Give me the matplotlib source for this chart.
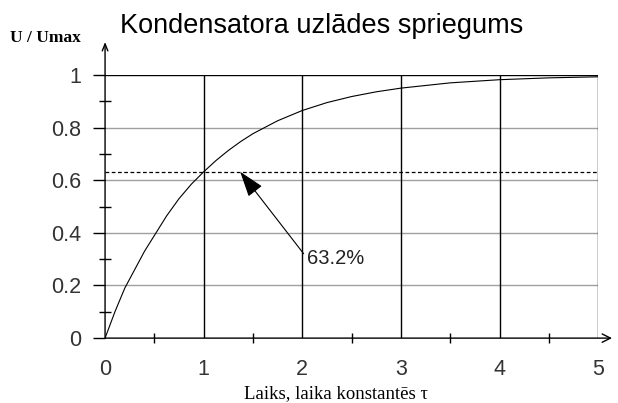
import matplotlib.pyplot as plt

# laiks (tau vienībās) un relatīvais spriegums
t_vals = [0, 0.1, 0.2, 0.3, 0.4, 0.5, 0.625, 0.75, 0.875, 1.0, 1.125, 1.25, 1.375, 1.5, 1.75,
          2.0, 2.25, 2.5, 2.75, 3.0, 3.5, 4.0, 4.5, 5.0]
u_vals = [0, 0.10, 0.19, 0.26, 0.33, 0.39, 0.465, 0.53, 0.585, 0.632, 0.675, 0.713, 0.747,
          0.777, 0.826, 0.865, 0.895, 0.918, 0.936, 0.95, 0.97, 0.982, 0.989, 0.993]
level = 0.632
level_label = "63.2%"
x_ticks = [0, 1, 2, 3, 4, 5]
y_ticks = [0, 0.2, 0.4, 0.6, 0.8, 1]
y_tick_labels = ["0", "0.2", "0.4", "0.6", "0.8", "1"]

fig = plt.figure(figsize=(6.18, 4.03), dpi=100)
ax = fig.add_axes([0.170, 0.161, 0.798, 0.653])
ax.set_xlim(0, 5)
ax.set_ylim(0, 1)

for s in ["top", "left", "bottom", "right"]:
    ax.spines[s].set_visible(False)

# režģis
for y in y_ticks[1:-1]:
    ax.axhline(y, color="#a0a0a0", lw=1.0, zorder=1)
ax.axhline(1, color="black", lw=1.0, zorder=1)
for x in x_ticks[1:]:
    ax.axvline(x, color="black", lw=1.0, zorder=1)

# asis ar bultām
ax.annotate("", xy=(0, 1.125), xytext=(0, 0), xycoords="data",
            arrowprops=dict(arrowstyle="->,head_length=0.5,head_width=0.2", color="black",
                            lw=1.0, shrinkA=0, shrinkB=0),
            annotation_clip=False)
ax.annotate("", xy=(5.14, 0), xytext=(0, 0), xycoords="data",
            arrowprops=dict(arrowstyle="->,head_length=0.6,head_width=0.3", color="black",
                            lw=1.0, shrinkA=0, shrinkB=0),
            annotation_clip=False)

ax.set_xticks(x_ticks)
ax.set_yticks(y_ticks)
ax.set_yticklabels(y_tick_labels)
ax.set_xticks([0.5, 1.5, 2.5, 3.5, 4.5], minor=True)
ax.set_yticks([0.1, 0.3, 0.5, 0.7, 0.9], minor=True)
ax.tick_params(axis="y", which="major", direction="out", length=9, width=1, pad=8,
               labelsize=15.5, labelcolor="#333333", labelfontfamily="Liberation Sans")
ax.tick_params(axis="y", which="minor", direction="inout", length=8, width=1)
ax.tick_params(axis="x", which="major", length=0, pad=15,
               labelsize=15.5, labelcolor="#333333", labelfontfamily="Liberation Sans")
ax.tick_params(axis="x", which="minor", direction="inout", length=7, width=1)

# uzlādes līkne
ax.plot(t_vals, u_vals, color="black", lw=0.8, zorder=3)

# 63.2% līmenis
ax.axhline(level, color="black", lw=0.9, ls=(0, (3, 2)), zorder=2)
ax.annotate(level_label, xy=(1.37, level), xytext=(2.05, 0.303),
            ha="left", va="center", fontsize=14.5, color="#222222", family="Liberation Sans",
            arrowprops=dict(arrowstyle="-|>,head_length=1.1,head_width=0.37", color="black",
                            lw=0.8, shrinkA=1, shrinkB=0, relpos=(0, 0.5)))

fig.text(0.521, 0.935, "Kondensatora uzlādes spriegums", ha="center", va="center",
         fontsize=19.5, family="Liberation Sans")
fig.text(0.073, 0.905, "U / Umax", ha="center", va="center", fontsize=12.5,
         fontweight="bold", family="Liberation Serif")
fig.text(0.544, 0.013, "Laiks, laika konstantēs τ", ha="center", va="baseline",
         fontsize=13.5, family="Liberation Serif")

fig.savefig("out.png", dpi=100)
